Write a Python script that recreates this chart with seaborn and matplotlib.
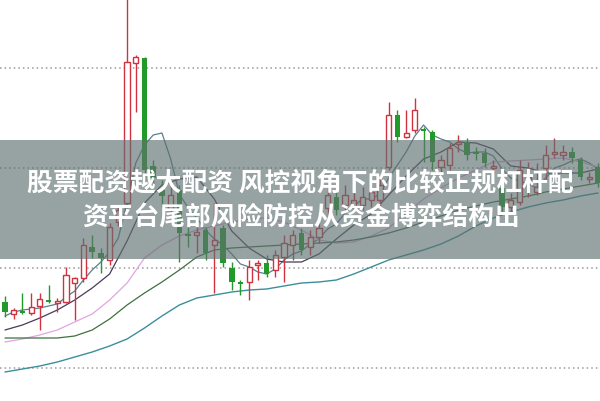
import numpy as np
import pandas as pd
import matplotlib
matplotlib.use("Agg")
import matplotlib.pyplot as plt
import seaborn as sns

# --- K线数据 (开, 高, 低, 收) ---
opens = [9.66, 9.54, 9.57, 9.55, 9.62, 9.68, 9.65, 9.66, 9.85, 9.90,
         10.21, 10.15, 10.08, 10.46, 10.65, 12.05, 12.10, 11.02, 10.78, 10.58,
         10.78, 10.34, 10.33, 10.38, 10.23, 10.40, 10.00, 9.86, 9.86, 10.03,
         10.05, 9.98, 10.11, 10.23, 10.35, 10.21, 10.31, 10.60, 10.71, 10.63,
         10.61, 10.63, 10.68, 10.68, 11.01, 11.53, 11.31, 11.38, 11.39, 11.36,
         11.01, 11.03, 11.24, 11.26, 11.16, 11.15, 11.00, 10.80, 10.61, 10.66,
         10.85, 10.76, 11.00, 11.14, 11.13, 11.16, 11.08, 10.89, 11.01]
highs = [9.72, 9.60, 9.75, 9.75, 9.75, 9.83, 9.70, 10.01, 9.91, 10.30,
         10.33, 10.20, 10.45, 10.63, 12.80, 12.13, 12.11, 11.08, 10.88, 10.83,
         10.83, 10.41, 10.41, 10.41, 10.65, 10.43, 10.06, 9.88, 10.08, 10.08,
         10.13, 10.18, 10.33, 10.38, 10.40, 10.38, 10.46, 10.81, 10.78, 10.83,
         10.75, 10.81, 10.88, 10.90, 11.66, 11.58, 11.58, 11.70, 11.41, 11.38,
         11.13, 11.25, 11.33, 11.30, 11.21, 11.20, 11.08, 10.88, 10.75, 11.08,
         11.06, 11.05, 11.23, 11.30, 11.23, 11.21, 11.11, 10.96, 11.05]
lows = [9.51, 9.49, 9.54, 9.53, 9.38, 9.65, 9.56, 9.65, 9.48, 9.86,
        10.10, 9.95, 10.03, 10.42, 10.60, 11.56, 10.83, 10.83, 10.61, 10.53,
        10.06, 10.21, 10.15, 10.08, 9.75, 10.01, 9.78, 9.73, 9.68, 9.88,
        9.91, 9.91, 9.86, 10.08, 10.13, 10.13, 10.25, 10.51, 10.53, 10.56,
        10.56, 10.58, 10.61, 10.61, 10.98, 11.26, 11.30, 11.35, 11.06, 10.98,
        10.96, 10.98, 11.16, 11.08, 11.08, 11.01, 10.93, 10.56, 10.56, 10.63,
        10.71, 10.73, 10.88, 11.10, 11.08, 11.05, 10.88, 10.85, 10.81]
closes = [9.56, 9.58, 9.55, 9.61, 9.69, 9.66, 9.67, 9.93, 9.90, 10.23,
          10.16, 10.10, 10.41, 10.58, 12.06, 12.11, 10.98, 10.90, 10.72, 10.73,
          10.35, 10.32, 10.36, 10.15, 10.28, 10.05, 9.86, 9.84, 10.01, 10.05,
          9.94, 10.13, 10.25, 10.33, 10.18, 10.31, 10.40, 10.73, 10.58, 10.73,
          10.68, 10.71, 10.76, 10.83, 11.53, 11.31, 11.35, 11.58, 11.37, 11.06,
          11.08, 11.20, 11.26, 11.13, 11.14, 11.05, 11.02, 10.61, 10.68, 10.98,
          10.91, 10.81, 11.13, 11.16, 11.16, 11.10, 10.91, 10.91, 10.85]

# --- 均线 ---
ma5 = [9.52, 9.56, 9.58, 9.59, 9.60, 9.62, 9.64, 9.71, 9.77, 9.88,
       9.98, 10.06, 10.16, 10.30, 10.66, 11.05, 11.23, 11.33, 11.35, 11.09,
       10.74, 10.60, 10.50, 10.38, 10.29, 10.23, 10.14, 10.04, 10.01, 9.96,
       9.94, 9.99, 10.08, 10.14, 10.17, 10.24, 10.29, 10.39, 10.44, 10.55,
       10.62, 10.69, 10.69, 10.74, 10.90, 11.03, 11.16, 11.32, 11.43, 11.33,
       11.29, 11.26, 11.19, 11.15, 11.16, 11.16, 11.12, 10.99, 10.90, 10.87,
       10.84, 10.80, 10.90, 11.00, 11.03, 11.07, 11.09, 11.05, 10.99]
ma_idx = list(range(0, 69, 2))
ma10 = [9.38, 9.43, 9.50, 9.58, 9.68, 9.80, 9.94, 10.27, 10.65, 10.83,
        10.89, 10.91, 10.69, 10.37, 10.20, 10.09, 10.06, 10.06, 10.14, 10.29,
        10.43, 10.54, 10.73, 10.92, 11.09, 11.16, 11.26, 11.25, 11.19, 11.02,
        11.00, 10.95, 10.95, 10.95, 10.99]
ma20 = [9.26, 9.29, 9.33, 9.38, 9.46, 9.54, 9.68, 9.85, 10.10, 10.23,
        10.32, 10.38, 10.42, 10.46, 10.49, 10.50, 10.46, 10.38, 10.28, 10.25,
        10.26, 10.32, 10.40, 10.55, 10.69, 10.80, 10.90, 10.98, 11.06, 11.07,
        11.08, 11.09, 11.10, 11.06, 11.01]
ma30 = [9.30, 9.30, 9.30, 9.30, 9.32, 9.38, 9.49, 9.63, 9.75, 9.86,
        9.98, 10.11, 10.18, 10.20, 10.21, 10.22, 10.23, 10.24, 10.25, 10.26,
        10.28, 10.31, 10.35, 10.40, 10.46, 10.52, 10.58, 10.62, 10.66, 10.69,
        10.72, 10.76, 10.79, 10.82, 10.85]
ma60 = [8.96, 8.99, 9.02, 9.06, 9.11, 9.16, 9.22, 9.29, 9.40, 9.52,
        9.63, 9.70, 9.73, 9.76, 9.78, 9.79, 9.82, 9.85, 9.86, 9.88,
        9.94, 10.01, 10.08, 10.13, 10.18, 10.24, 10.32, 10.42, 10.50, 10.56,
        10.61, 10.65, 10.68, 10.72, 10.75]

grid_levels = [9, 10, 11, 12]
line1 = "股票配资越大配资 风控视角下的比较正规杠杆配"
line2 = "资平台尾部风险防控从资金博弈结构出"

RED = "#cf3340"
GREEN = "#229a2a"

sns.set_style("white")
plt.rcParams['font.family'] = ['Noto Sans CJK SC', 'DejaVu Sans']

fig = plt.figure(figsize=(6, 4.01), dpi=100)
ax = fig.add_axes([0, 0, 1, 1])

# 虚线网格
for lv in grid_levels:
    ax.axhline(lv, color="#9a9a9a", lw=1.1, ls=(0, (1, 2)), zorder=1)

# 均线
sns.lineplot(x=list(range(len(ma5))), y=ma5, ax=ax, color="#5b7f8e", lw=0.9, zorder=2)
sns.lineplot(x=ma_idx, y=ma10, ax=ax, color="#4a3a58", lw=0.9, zorder=2)
sns.lineplot(x=ma_idx, y=ma20, ax=ax, color="#e3a3e3", lw=0.9, zorder=2)
sns.lineplot(x=ma_idx, y=ma30, ax=ax, color="#3f7040", lw=0.9, zorder=2)
sns.lineplot(x=ma_idx, y=ma60, ax=ax, color="#3b8e9c", lw=1.0, zorder=2)

# K线
df = pd.DataFrame({"o": opens, "h": highs, "l": lows, "c": closes})
for i, r in df.iterrows():
    up = r.c >= r.o
    col = RED if up else GREEN
    ax.vlines(i, r.l, r.h, color=col, lw=1.0, zorder=3)
    body = max(abs(r.c - r.o), 0.015)
    bottom = min(r.o, r.c)
    if up:
        ax.bar(i, body, bottom=bottom, width=0.6, facecolor="white",
               edgecolor=col, lw=1.0, zorder=4)
    else:
        ax.bar(i, body, bottom=bottom, width=0.64, color=col, lw=0, zorder=4)

ax.set_xlim(-0.57, 68.23)
ax.set_ylim(8.67, 12.68)
ax.axis("off")

# 标题横幅
ax.axhspan(10.09, 11.28, color="#5f7070", alpha=0.65, lw=0, zorder=5)
fig.text(300 / 600, 1 - 184 / 401, line1, color="white", fontsize=18.5,
         fontweight="bold", ha="center", va="center", zorder=6)
fig.text(301 / 600, 1 - 218 / 401, line2, color="white", fontsize=18.5,
         fontweight="bold", ha="center", va="center", zorder=6)

fig.savefig("out.png", dpi=100)
